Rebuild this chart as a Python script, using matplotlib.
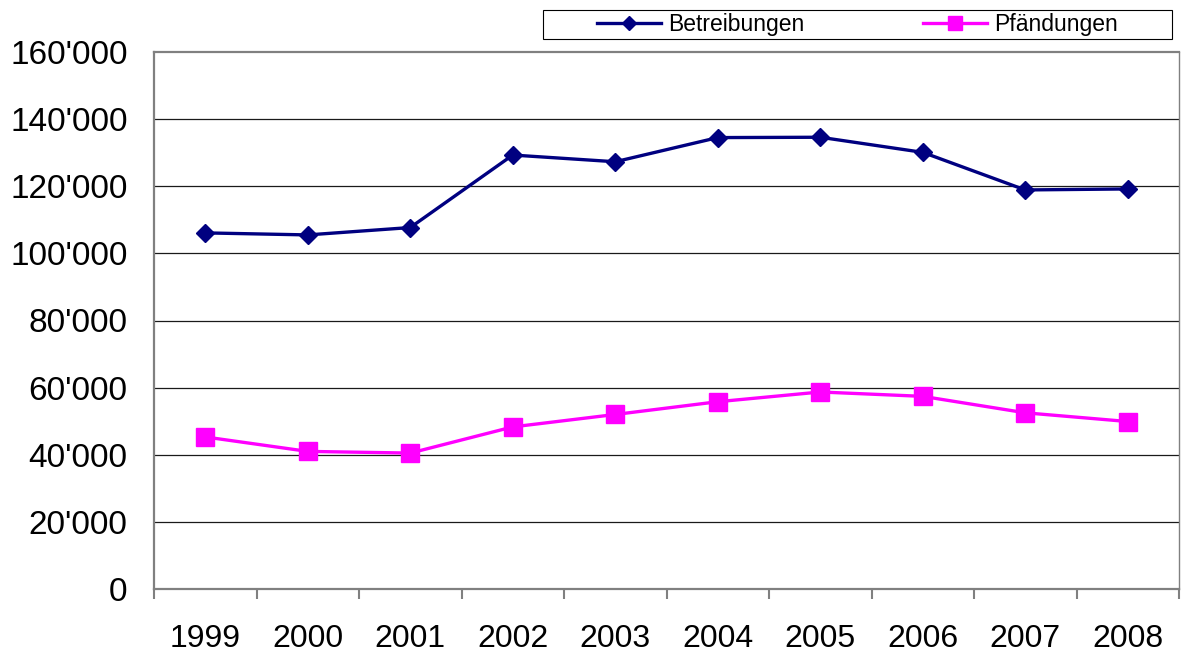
import matplotlib
matplotlib.use('Agg')
import matplotlib.pyplot as plt
from matplotlib.ticker import FuncFormatter, MultipleLocator, FixedLocator
from matplotlib.patches import Rectangle

# data
years = ['1999', '2000', '2001', '2002', '2003', '2004', '2005', '2006', '2007', '2008']
betreibungen = [106100, 105500, 107700, 129300, 127300, 134500, 134600, 130100, 118900, 119200]
pfaendungen = [45300, 41000, 40500, 48300, 52000, 55800, 58700, 57400, 52500, 49900]

plt.rcParams['font.family'] = ['Liberation Sans', 'DejaVu Sans']

W, H = 1181, 654
fig = plt.figure(figsize=(W / 100, H / 100), dpi=100)

# plot area in pixels: left 154, right 1179, top 52, bottom 589
ax = fig.add_axes([154 / W, 1 - 589 / H, (1179 - 154) / W, (589 - 52) / H])

x = list(range(len(years)))
ax.plot(x, betreibungen, color='#000080', lw=2.4, marker='D', ms=9.2,
        mec='#000080', mew=1, label='Betreibungen', zorder=3)
ax.plot(x, pfaendungen, color='#FF00FF', lw=2.4, marker='s', ms=13,
        mec='#FF00FF', mew=1, label='Pfändungen', zorder=3)

ax.set_xlim(-0.5, len(years) - 0.5)
ax.set_ylim(0, 160000)

# y axis: apostrophe as thousands separator
ax.yaxis.set_major_locator(MultipleLocator(20000))
ax.yaxis.set_major_formatter(FuncFormatter(lambda v, p: f"{int(v):,}".replace(',', "'")))
ax.tick_params(axis='y', length=0, pad=19, labelsize=24)

# x axis: ticks between categories, labels at the centres
ax.xaxis.set_major_locator(FixedLocator([i - 0.5 for i in range(len(years) + 1)]))
ax.xaxis.set_major_formatter(FuncFormatter(lambda v, p: ''))
ax.xaxis.set_minor_locator(FixedLocator(x))
ax.set_xticklabels(years, minor=True)
ax.tick_params(axis='x', which='major', length=7.5, width=1.5, color='#808080', direction='out')
ax.tick_params(axis='x', which='minor', length=0, pad=25, labelsize=23)

# horizontal gridlines
for v in range(20000, 160000, 20000):
    ax.axhline(v, color='#1a1a1a', lw=0.9, zorder=1)

for s in ax.spines.values():
    s.set_color('#808080')
    s.set_linewidth(1.6)
ax.spines['right'].set_linewidth(1.0)

# legend on top with its own box
leg = fig.legend(loc='center', bbox_to_anchor=((543 + 1172) / 2 / W, 1 - 24.5 / H),
                 ncol=2, frameon=False, fontsize=16.5, handlelength=2.8,
                 handletextpad=0.3, columnspacing=5.2, markerscale=0.8,
                 borderpad=0.2)
fig.patches.append(Rectangle((543 / W, 1 - 39 / H), (1172 - 543) / W, 29 / H,
                             transform=fig.transFigure, fill=False,
                             edgecolor='black', lw=0.8))

fig.savefig('out.png', dpi=100)
